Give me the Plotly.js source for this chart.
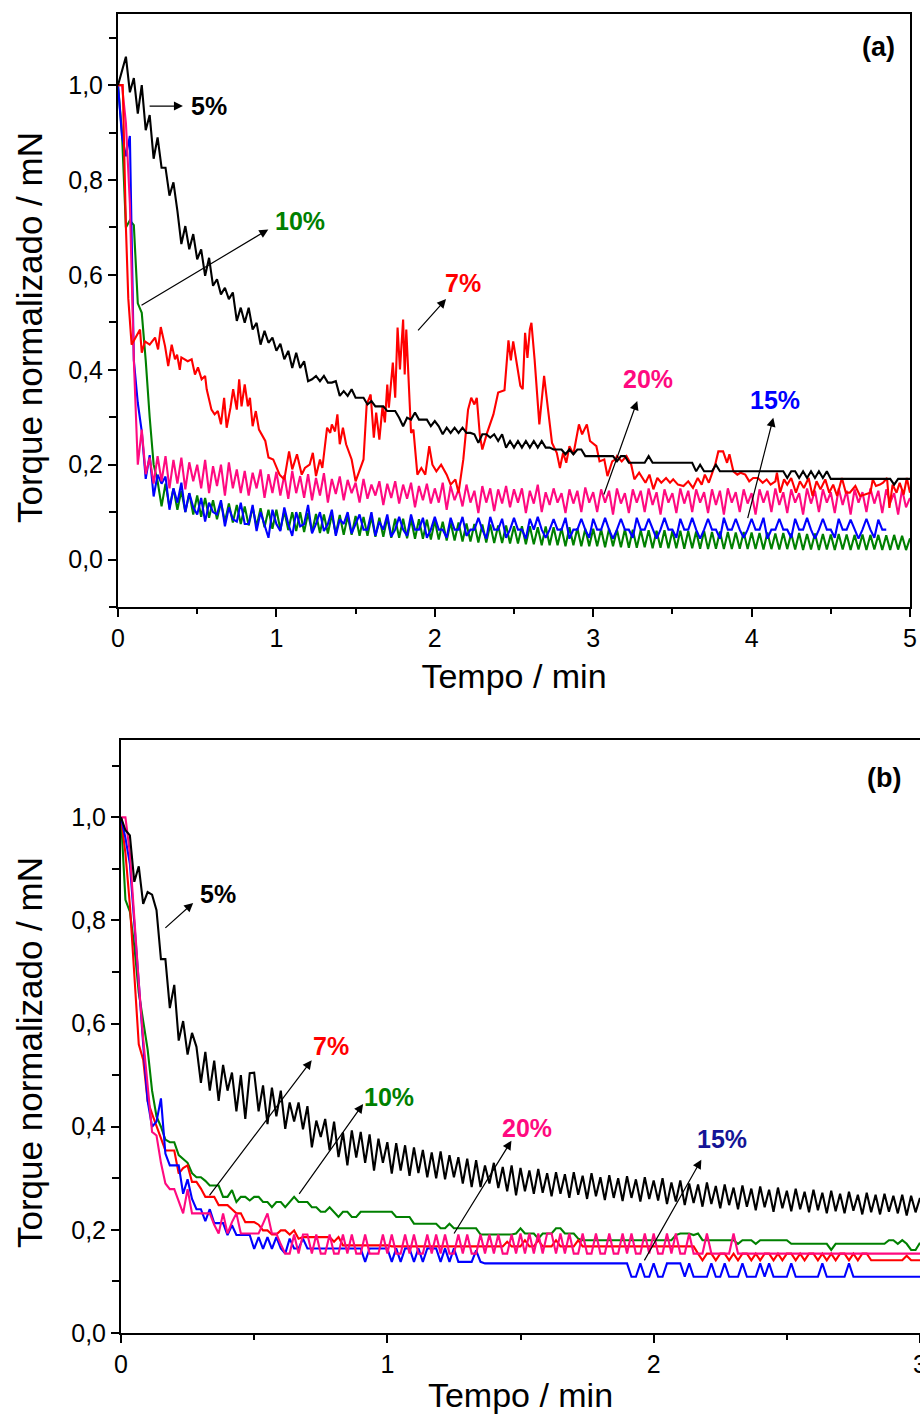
<!DOCTYPE html>
<html>
<head>
<meta charset="utf-8">
<script src="https://cdn.plot.ly/plotly-3.0.1.min.js"></script>
<style>
  html, body { margin: 0; padding: 0; background: #ffffff; }
  #chart { width: 920px; height: 1414px; }
</style>
</head>
<body>
<div id="chart"></div>
<script>
// ---------------- Panel (a): sampled every 0.025 min from t = 0 ----------------
const stepA = 0.025;

const a5 = [
  1.000, 1.030, 1.060, 0.985, 1.015, 0.940, 1.000, 0.905, 0.937, 0.845,
  0.890, 0.826, 0.826, 0.767, 0.795, 0.735, 0.665, 0.703, 0.654, 0.686,
  0.633, 0.654, 0.598, 0.636, 0.577, 0.591, 0.559, 0.573, 0.549, 0.563,
  0.503, 0.531, 0.499, 0.531, 0.485, 0.499, 0.453, 0.482, 0.457, 0.468,
  0.440, 0.455, 0.422, 0.440, 0.404, 0.436, 0.404, 0.418, 0.376, 0.380,
  0.387, 0.376, 0.387, 0.373, 0.373, 0.376, 0.345, 0.355, 0.345, 0.359,
  0.341, 0.341, 0.341, 0.327, 0.334, 0.323, 0.323, 0.323, 0.313, 0.313,
  0.313, 0.299, 0.281, 0.299, 0.295, 0.310, 0.295, 0.295, 0.295, 0.281,
  0.292, 0.281, 0.264, 0.278, 0.267, 0.278, 0.267, 0.278, 0.267, 0.267,
  0.264, 0.246, 0.264, 0.264, 0.257, 0.264, 0.250, 0.264, 0.236, 0.250,
  0.236, 0.250, 0.236, 0.250, 0.236, 0.250, 0.236, 0.250, 0.236, 0.236,
  0.232, 0.232, 0.232, 0.222, 0.232, 0.222, 0.232, 0.232, 0.218, 0.218,
  0.218, 0.218, 0.218, 0.218, 0.218, 0.218, 0.207, 0.218, 0.218, 0.204,
  0.204, 0.204, 0.204, 0.204, 0.218, 0.204, 0.204, 0.204, 0.204, 0.204,
  0.204, 0.204, 0.204, 0.204, 0.204, 0.204, 0.186, 0.200, 0.186, 0.186,
  0.186, 0.200, 0.186, 0.186, 0.186, 0.186, 0.186, 0.186, 0.186, 0.186,
  0.186, 0.186, 0.186, 0.186, 0.186, 0.186, 0.186, 0.186, 0.186, 0.172,
  0.186, 0.186, 0.172, 0.186, 0.172, 0.186, 0.172, 0.186, 0.172, 0.186,
  0.170, 0.170, 0.170, 0.170, 0.170, 0.170, 0.170, 0.170, 0.170, 0.170,
  0.170, 0.170, 0.170, 0.170, 0.170, 0.170, 0.158, 0.170, 0.170, 0.170,
  0.170
];

const a10 = [
  1.000, 0.900, 0.700, 0.715, 0.705, 0.540, 0.520, 0.420, 0.300, 0.200,
  0.165, 0.112, 0.160, 0.110, 0.150, 0.105, 0.145, 0.100, 0.140, 0.095,
  0.135, 0.090, 0.130, 0.088, 0.125, 0.085, 0.120, 0.080, 0.118, 0.078,
  0.115, 0.075, 0.112, 0.072, 0.110, 0.070, 0.108, 0.068, 0.105, 0.065,
  0.105, 0.063, 0.102, 0.062, 0.100, 0.060, 0.100, 0.058, 0.098, 0.058,
  0.096, 0.056, 0.095, 0.055, 0.095, 0.054, 0.094, 0.052, 0.092, 0.052,
  0.092, 0.050, 0.090, 0.050, 0.090, 0.048, 0.088, 0.048, 0.088, 0.046,
  0.086, 0.046, 0.086, 0.045, 0.085, 0.044, 0.085, 0.044, 0.084, 0.042,
  0.082, 0.042, 0.080, 0.040, 0.078, 0.040, 0.078, 0.038, 0.076, 0.038,
  0.075, 0.036, 0.074, 0.036, 0.074, 0.035, 0.072, 0.035, 0.072, 0.034,
  0.070, 0.034, 0.070, 0.032, 0.070, 0.032, 0.068, 0.030, 0.070, 0.030,
  0.068, 0.030, 0.066, 0.028, 0.068, 0.030, 0.066, 0.028, 0.065, 0.028,
  0.065, 0.028, 0.064, 0.026, 0.065, 0.028, 0.063, 0.026, 0.064, 0.025,
  0.063, 0.025, 0.062, 0.026, 0.062, 0.024, 0.061, 0.025, 0.062, 0.024,
  0.060, 0.024, 0.061, 0.023, 0.060, 0.024, 0.059, 0.023, 0.060, 0.022,
  0.058, 0.023, 0.059, 0.022, 0.058, 0.022, 0.057, 0.023, 0.058, 0.022,
  0.057, 0.022, 0.056, 0.021, 0.057, 0.022, 0.055, 0.021, 0.056, 0.022,
  0.055, 0.021, 0.056, 0.020, 0.054, 0.021, 0.055, 0.020, 0.054, 0.021,
  0.053, 0.020, 0.054, 0.021, 0.053, 0.020, 0.052, 0.021, 0.053, 0.020,
  0.052, 0.021, 0.052, 0.020, 0.051, 0.020, 0.052, 0.021, 0.050, 0.020,
  0.045
];

const a15 = [
  1.000, 0.893, 0.850, 0.893, 0.420, 0.330, 0.270, 0.170, 0.220, 0.133,
  0.179, 0.160, 0.175, 0.105, 0.150, 0.120, 0.162, 0.100, 0.140, 0.110,
  0.095, 0.130, 0.080, 0.120, 0.100, 0.095, 0.125, 0.070, 0.110, 0.085,
  0.080, 0.120, 0.075, 0.075, 0.115, 0.060, 0.100, 0.075, 0.046, 0.105,
  0.075, 0.060, 0.110, 0.075, 0.050, 0.100, 0.070, 0.075, 0.115, 0.055,
  0.075, 0.100, 0.060, 0.075, 0.105, 0.050, 0.085, 0.075, 0.100, 0.055,
  0.075, 0.095, 0.063, 0.063, 0.100, 0.050, 0.080, 0.063, 0.095, 0.048,
  0.063, 0.090, 0.063, 0.050, 0.095, 0.063, 0.063, 0.088, 0.046, 0.063,
  0.090, 0.063, 0.063, 0.046, 0.088, 0.063, 0.063, 0.090, 0.050, 0.063,
  0.063, 0.088, 0.063, 0.044, 0.090, 0.063, 0.063, 0.086, 0.046, 0.063,
  0.088, 0.063, 0.063, 0.044, 0.086, 0.063, 0.090, 0.063, 0.046, 0.063,
  0.085, 0.063, 0.063, 0.088, 0.044, 0.063, 0.063, 0.086, 0.063, 0.046,
  0.086, 0.063, 0.063, 0.088, 0.063, 0.044, 0.063, 0.086, 0.063, 0.063,
  0.046, 0.088, 0.063, 0.063, 0.086, 0.063, 0.044, 0.063, 0.088, 0.063,
  0.063, 0.046, 0.086, 0.063, 0.063, 0.088, 0.063, 0.044, 0.063, 0.086,
  0.063, 0.063, 0.044, 0.088, 0.063, 0.063, 0.086, 0.063, 0.046, 0.063,
  0.086, 0.063, 0.063, 0.088, 0.044, 0.063, 0.063, 0.086, 0.063, 0.063,
  0.046, 0.086, 0.063, 0.063, 0.088, 0.063, 0.044, 0.063, 0.086, 0.063,
  0.063, 0.046, 0.086, 0.063, 0.063, 0.084, 0.063, 0.044, 0.063, 0.086,
  0.063, 0.046, 0.084, 0.063, 0.063
];

const a20 = [
  1.000, 1.000, 0.920, 0.750, 0.420, 0.200, 0.274, 0.180, 0.215, 0.160,
  0.218, 0.165, 0.218, 0.150, 0.210, 0.160, 0.215, 0.148, 0.205, 0.165,
  0.200, 0.150, 0.210, 0.140, 0.197, 0.155, 0.200, 0.135, 0.205, 0.150,
  0.190, 0.140, 0.187, 0.135, 0.183, 0.150, 0.190, 0.130, 0.180, 0.140,
  0.185, 0.135, 0.178, 0.128, 0.187, 0.140, 0.176, 0.130, 0.180, 0.125,
  0.172, 0.135, 0.182, 0.120, 0.170, 0.138, 0.175, 0.125, 0.168, 0.140,
  0.162, 0.120, 0.170, 0.128, 0.158, 0.135, 0.165, 0.115, 0.160, 0.130,
  0.165, 0.118, 0.158, 0.128, 0.162, 0.110, 0.155, 0.125, 0.160, 0.118,
  0.150, 0.120, 0.162, 0.105, 0.155, 0.125, 0.148, 0.112, 0.158, 0.120,
  0.145, 0.098, 0.155, 0.120, 0.150, 0.102, 0.148, 0.118, 0.155, 0.110,
  0.148, 0.120, 0.150, 0.098, 0.145, 0.118, 0.158, 0.100, 0.142, 0.115,
  0.150, 0.120, 0.140, 0.098, 0.148, 0.118, 0.145, 0.100, 0.152, 0.120,
  0.142, 0.100, 0.148, 0.120, 0.145, 0.095, 0.150, 0.118, 0.140, 0.098,
  0.148, 0.120, 0.145, 0.100, 0.150, 0.115, 0.142, 0.095, 0.148, 0.120,
  0.140, 0.098, 0.150, 0.118, 0.145, 0.100, 0.148, 0.120, 0.142, 0.098,
  0.148, 0.115, 0.145, 0.095, 0.150, 0.120, 0.142, 0.100, 0.148, 0.118,
  0.140, 0.095, 0.148, 0.120, 0.145, 0.100, 0.150, 0.115, 0.142, 0.098,
  0.148, 0.120, 0.140, 0.095, 0.150, 0.118, 0.145, 0.100, 0.148, 0.120,
  0.142, 0.098, 0.150, 0.115, 0.145, 0.095, 0.148, 0.120, 0.142, 0.100,
  0.150, 0.118, 0.145, 0.098, 0.148, 0.120, 0.140, 0.095, 0.148, 0.110,
  0.130
];

// 7 % run: irregular trace, stored as (time, torque) pairs
const a7Time = [
  0.000, 0.030, 0.050, 0.065, 0.086, 0.139, 0.150, 0.170, 0.200, 0.234,
  0.253, 0.270, 0.297, 0.317, 0.339, 0.360, 0.373, 0.390, 0.400, 0.440,
  0.465, 0.486, 0.505, 0.528, 0.550, 0.560, 0.590, 0.610, 0.630, 0.650,
  0.670, 0.686, 0.710, 0.727, 0.750, 0.765, 0.780, 0.800, 0.820, 0.833,
  0.850, 0.870, 0.890, 0.930, 0.950, 0.980, 1.020, 1.050, 1.080, 1.100,
  1.130, 1.160, 1.180, 1.210, 1.230, 1.250, 1.275, 1.290, 1.320, 1.340,
  1.350, 1.370, 1.385, 1.400, 1.420, 1.440, 1.475, 1.500, 1.550, 1.570,
  1.595, 1.615, 1.630, 1.650, 1.670, 1.685, 1.700, 1.710, 1.735, 1.750,
  1.765, 1.780, 1.800, 1.810, 1.820, 1.850, 1.865, 1.890, 1.915, 1.940,
  1.965, 1.985, 2.010, 2.040, 2.075, 2.100, 2.130, 2.150, 2.180, 2.210,
  2.230, 2.250, 2.265, 2.285, 2.300, 2.330, 2.370, 2.400, 2.440, 2.465,
  2.480, 2.495, 2.520, 2.540, 2.555, 2.570, 2.585, 2.600, 2.610, 2.630,
  2.660, 2.690, 2.715, 2.740, 2.770, 2.790, 2.810, 2.830, 2.850, 2.875,
  2.910, 2.930, 2.960, 2.980, 3.020, 3.040, 3.070, 3.090, 3.120, 3.140,
  3.150, 3.180, 3.210, 3.240, 3.260, 3.290, 3.330, 3.355, 3.380, 3.405,
  3.430, 3.460, 3.485, 3.505, 3.535, 3.570, 3.600, 3.630, 3.660, 3.685,
  3.705, 3.730, 3.755, 3.770, 3.790, 3.820, 3.845, 3.860, 3.885, 3.910,
  3.930, 3.960, 3.985, 4.010, 4.040, 4.070, 4.095, 4.120, 4.150, 4.160,
  4.180, 4.205, 4.225, 4.250, 4.280, 4.305, 4.330, 4.360, 4.385, 4.410,
  4.435, 4.465, 4.490, 4.515, 4.540, 4.570, 4.595, 4.620, 4.655, 4.685,
  4.715, 4.750, 4.765, 4.785, 4.810, 4.830, 4.855, 4.870, 4.890, 4.915,
  4.935, 4.960, 4.980, 5.000
];
const a7 = [
  1.000, 1.000, 0.700, 0.550, 0.453, 0.485, 0.436, 0.460, 0.453, 0.468,
  0.443, 0.490, 0.450, 0.408, 0.453, 0.422, 0.432, 0.400, 0.426, 0.418,
  0.422, 0.390, 0.405, 0.380, 0.387, 0.359, 0.316, 0.306, 0.313, 0.285,
  0.341, 0.278, 0.320, 0.359, 0.316, 0.380, 0.323, 0.369, 0.323, 0.341,
  0.281, 0.313, 0.274, 0.250, 0.215, 0.211, 0.179, 0.169, 0.228, 0.190,
  0.222, 0.179, 0.193, 0.200, 0.225, 0.176, 0.211, 0.193, 0.278, 0.267,
  0.285, 0.270, 0.306, 0.243, 0.278, 0.243, 0.211, 0.165, 0.211, 0.327,
  0.348, 0.257, 0.310, 0.253, 0.323, 0.289, 0.369, 0.320, 0.415, 0.341,
  0.489, 0.401, 0.506, 0.390, 0.485, 0.267, 0.274, 0.179, 0.193, 0.179,
  0.239, 0.200, 0.186, 0.200, 0.179, 0.158, 0.169, 0.141, 0.211, 0.316,
  0.341, 0.327, 0.341, 0.260, 0.232, 0.267, 0.306, 0.352, 0.357, 0.462,
  0.420, 0.460, 0.408, 0.366, 0.359, 0.478, 0.425, 0.485, 0.499, 0.422,
  0.285, 0.387, 0.316, 0.246, 0.225, 0.193, 0.225, 0.204, 0.239, 0.222,
  0.285, 0.264, 0.285, 0.250, 0.239, 0.207, 0.211, 0.176, 0.207, 0.211,
  0.218, 0.207, 0.218, 0.200, 0.169, 0.183, 0.162, 0.179, 0.148, 0.172,
  0.162, 0.172, 0.162, 0.169, 0.158, 0.155, 0.165, 0.151, 0.172, 0.158,
  0.179, 0.162, 0.186, 0.200, 0.228, 0.228, 0.204, 0.222, 0.186, 0.179,
  0.183, 0.179, 0.165, 0.172, 0.172, 0.162, 0.169, 0.158, 0.165, 0.183,
  0.141, 0.169, 0.158, 0.172, 0.141, 0.165, 0.151, 0.172, 0.134, 0.165,
  0.148, 0.169, 0.141, 0.158, 0.134, 0.172, 0.141, 0.141, 0.155, 0.134,
  0.137, 0.141, 0.169, 0.155, 0.158, 0.162, 0.172, 0.109, 0.158, 0.141,
  0.162, 0.137, 0.172, 0.141
];

// ---------------- Panel (b): sampled every second (1/60 min) ----------------
const stepB = 1 / 60;

const b5 = [
  1.000, 0.975, 0.965, 0.875, 0.905, 0.832, 0.855, 0.850, 0.820, 0.725,
  0.725, 0.630, 0.675, 0.567, 0.605, 0.540, 0.582, 0.555, 0.485, 0.545,
  0.470, 0.528, 0.450, 0.520, 0.470, 0.505, 0.430, 0.500, 0.415, 0.504,
  0.505, 0.430, 0.480, 0.405, 0.476, 0.420, 0.470, 0.396, 0.447, 0.410,
  0.447, 0.395, 0.440, 0.360, 0.412, 0.380, 0.415, 0.354, 0.410, 0.341,
  0.389, 0.325, 0.393, 0.340, 0.390, 0.330, 0.385, 0.315, 0.377, 0.330,
  0.370, 0.309, 0.368, 0.315, 0.364, 0.305, 0.360, 0.310, 0.355, 0.302,
  0.350, 0.300, 0.352, 0.298, 0.345, 0.302, 0.341, 0.290, 0.338, 0.283,
  0.335, 0.283, 0.325, 0.290, 0.330, 0.281, 0.322, 0.275, 0.325, 0.267,
  0.320, 0.275, 0.315, 0.270, 0.318, 0.272, 0.310, 0.265, 0.312, 0.270,
  0.308, 0.262, 0.312, 0.268, 0.305, 0.260, 0.310, 0.265, 0.302, 0.258,
  0.306, 0.262, 0.300, 0.256, 0.304, 0.262, 0.298, 0.255, 0.302, 0.260,
  0.296, 0.257, 0.300, 0.250, 0.292, 0.255, 0.296, 0.248, 0.290, 0.252,
  0.288, 0.245, 0.292, 0.250, 0.285, 0.242, 0.288, 0.248, 0.282, 0.240,
  0.286, 0.245, 0.280, 0.238, 0.284, 0.244, 0.278, 0.235, 0.282, 0.242,
  0.276, 0.236, 0.280, 0.240, 0.274, 0.234, 0.278, 0.238, 0.272, 0.232,
  0.276, 0.236, 0.270, 0.232, 0.274, 0.237, 0.268, 0.230, 0.272, 0.234,
  0.268, 0.230, 0.270, 0.235, 0.266, 0.232, 0.268, 0.228, 0.266, 0.234,
  0.262
];

const b7 = [
  1.000, 0.930, 0.830, 0.700, 0.560, 0.530, 0.450, 0.425, 0.400, 0.375,
  0.354, 0.354, 0.354, 0.309, 0.320, 0.325, 0.293, 0.293, 0.280, 0.264,
  0.264, 0.264, 0.248, 0.248, 0.248, 0.240, 0.232, 0.232, 0.215, 0.215,
  0.215, 0.210, 0.199, 0.199, 0.191, 0.191, 0.199, 0.199, 0.191, 0.199,
  0.183, 0.186, 0.186, 0.186, 0.186, 0.186, 0.186, 0.186, 0.177, 0.186,
  0.170, 0.170, 0.170, 0.170, 0.170, 0.170, 0.170, 0.170, 0.170, 0.170,
  0.170, 0.168, 0.168, 0.168, 0.168, 0.168, 0.168, 0.168, 0.168, 0.168,
  0.168, 0.168, 0.168, 0.168, 0.168, 0.168, 0.168, 0.168, 0.168, 0.168,
  0.168, 0.168, 0.168, 0.168, 0.168, 0.168, 0.168, 0.177, 0.168, 0.168,
  0.168, 0.180, 0.168, 0.168, 0.180, 0.168, 0.168, 0.168, 0.180, 0.168,
  0.168, 0.168, 0.168, 0.180, 0.168, 0.168, 0.168, 0.168, 0.168, 0.168,
  0.168, 0.168, 0.168, 0.168, 0.168, 0.168, 0.168, 0.168, 0.168, 0.168,
  0.168, 0.168, 0.168, 0.168, 0.168, 0.168, 0.168, 0.168, 0.168, 0.168,
  0.154, 0.141, 0.154, 0.154, 0.141, 0.154, 0.154, 0.141, 0.154, 0.141,
  0.154, 0.154, 0.141, 0.154, 0.141, 0.154, 0.154, 0.141, 0.154, 0.141,
  0.154, 0.154, 0.141, 0.154, 0.141, 0.154, 0.154, 0.141, 0.154, 0.141,
  0.154, 0.141, 0.154, 0.154, 0.141, 0.154, 0.141, 0.154, 0.154, 0.141,
  0.141, 0.141, 0.141, 0.141, 0.141, 0.141, 0.141, 0.150, 0.141, 0.141,
  0.141
];

const b10 = [
  1.000, 0.840, 0.817, 0.750, 0.660, 0.600, 0.550, 0.470, 0.420, 0.400,
  0.375, 0.370, 0.370, 0.345, 0.338, 0.330, 0.310, 0.302, 0.302, 0.295,
  0.286, 0.286, 0.286, 0.264, 0.264, 0.277, 0.254, 0.264, 0.264, 0.257,
  0.264, 0.264, 0.254, 0.254, 0.244, 0.254, 0.254, 0.244, 0.254, 0.264,
  0.254, 0.254, 0.254, 0.244, 0.244, 0.235, 0.235, 0.244, 0.235, 0.225,
  0.235, 0.235, 0.225, 0.225, 0.235, 0.235, 0.235, 0.235, 0.235, 0.235,
  0.235, 0.235, 0.225, 0.225, 0.225, 0.225, 0.212, 0.212, 0.212, 0.212,
  0.212, 0.212, 0.203, 0.203, 0.212, 0.203, 0.203, 0.203, 0.203, 0.203,
  0.203, 0.191, 0.191, 0.191, 0.191, 0.191, 0.191, 0.191, 0.191, 0.193,
  0.203, 0.193, 0.193, 0.193, 0.183, 0.193, 0.193, 0.193, 0.203, 0.203,
  0.193, 0.193, 0.193, 0.183, 0.180, 0.180, 0.180, 0.180, 0.180, 0.180,
  0.180, 0.180, 0.180, 0.180, 0.180, 0.180, 0.180, 0.180, 0.180, 0.180,
  0.180, 0.180, 0.180, 0.180, 0.180, 0.190, 0.193, 0.193, 0.193, 0.190,
  0.193, 0.180, 0.180, 0.180, 0.180, 0.180, 0.180, 0.180, 0.180, 0.173,
  0.180, 0.180, 0.180, 0.173, 0.180, 0.180, 0.180, 0.180, 0.180, 0.180,
  0.180, 0.173, 0.173, 0.173, 0.173, 0.173, 0.173, 0.173, 0.173, 0.173,
  0.161, 0.173, 0.173, 0.173, 0.173, 0.173, 0.173, 0.173, 0.173, 0.173,
  0.173, 0.173, 0.173, 0.180, 0.180, 0.173, 0.180, 0.173, 0.161, 0.161,
  0.175
];

const b15 = [
  1.000, 0.960, 0.910, 0.800, 0.680, 0.560, 0.450, 0.400, 0.410, 0.455,
  0.348, 0.325, 0.325, 0.325, 0.270, 0.298, 0.260, 0.240, 0.240, 0.217,
  0.240, 0.213, 0.213, 0.213, 0.190, 0.209, 0.190, 0.190, 0.190, 0.190,
  0.163, 0.186, 0.163, 0.186, 0.163, 0.186, 0.164, 0.154, 0.183, 0.164,
  0.164, 0.183, 0.164, 0.164, 0.164, 0.164, 0.164, 0.164, 0.164, 0.164,
  0.164, 0.164, 0.164, 0.164, 0.164, 0.138, 0.164, 0.164, 0.164, 0.164,
  0.164, 0.138, 0.164, 0.138, 0.164, 0.164, 0.138, 0.164, 0.138, 0.164,
  0.164, 0.164, 0.138, 0.164, 0.138, 0.164, 0.138, 0.138, 0.138, 0.138,
  0.160, 0.138, 0.135, 0.135, 0.135, 0.135, 0.135, 0.135, 0.135, 0.135,
  0.135, 0.135, 0.135, 0.135, 0.135, 0.135, 0.135, 0.135, 0.135, 0.135,
  0.135, 0.135, 0.135, 0.135, 0.135, 0.135, 0.135, 0.135, 0.135, 0.135,
  0.135, 0.135, 0.135, 0.135, 0.135, 0.109, 0.109, 0.135, 0.109, 0.109,
  0.135, 0.109, 0.109, 0.135, 0.135, 0.135, 0.135, 0.109, 0.135, 0.109,
  0.109, 0.109, 0.109, 0.135, 0.109, 0.109, 0.135, 0.109, 0.109, 0.109,
  0.135, 0.109, 0.109, 0.109, 0.135, 0.109, 0.135, 0.109, 0.109, 0.109,
  0.109, 0.135, 0.109, 0.109, 0.109, 0.109, 0.109, 0.109, 0.135, 0.109,
  0.109, 0.109, 0.109, 0.109, 0.135, 0.109, 0.109, 0.109, 0.109, 0.109,
  0.109, 0.109, 0.109, 0.109, 0.109, 0.109, 0.109, 0.109, 0.109, 0.109,
  0.109
];

const b20 = [
  1.000, 1.000, 0.930, 0.800, 0.680, 0.570, 0.478, 0.390, 0.383, 0.330,
  0.290, 0.279, 0.279, 0.255, 0.232, 0.279, 0.232, 0.232, 0.232, 0.232,
  0.232, 0.210, 0.193, 0.232, 0.193, 0.215, 0.232, 0.193, 0.193, 0.193,
  0.193, 0.193, 0.212, 0.232, 0.193, 0.193, 0.172, 0.154, 0.154, 0.191,
  0.154, 0.191, 0.191, 0.154, 0.191, 0.154, 0.154, 0.191, 0.154, 0.154,
  0.191, 0.154, 0.191, 0.154, 0.154, 0.191, 0.154, 0.154, 0.154, 0.191,
  0.154, 0.191, 0.154, 0.154, 0.191, 0.154, 0.191, 0.154, 0.154, 0.191,
  0.154, 0.191, 0.154, 0.191, 0.154, 0.154, 0.191, 0.154, 0.191, 0.154,
  0.154, 0.191, 0.154, 0.191, 0.154, 0.191, 0.154, 0.154, 0.191, 0.154,
  0.193, 0.154, 0.193, 0.154, 0.193, 0.154, 0.193, 0.193, 0.154, 0.193,
  0.154, 0.193, 0.154, 0.154, 0.193, 0.154, 0.154, 0.193, 0.154, 0.154,
  0.193, 0.154, 0.154, 0.193, 0.154, 0.193, 0.154, 0.154, 0.193, 0.154,
  0.193, 0.154, 0.154, 0.193, 0.154, 0.193, 0.154, 0.154, 0.193, 0.154,
  0.154, 0.154, 0.193, 0.154, 0.154, 0.154, 0.154, 0.154, 0.193, 0.154,
  0.154, 0.154, 0.154, 0.154, 0.154, 0.154, 0.154, 0.154, 0.154, 0.154,
  0.154, 0.154, 0.154, 0.154, 0.154, 0.154, 0.154, 0.154, 0.154, 0.154,
  0.154, 0.154, 0.154, 0.154, 0.154, 0.154, 0.154, 0.154, 0.154, 0.154,
  0.154, 0.154, 0.154, 0.154, 0.154, 0.154, 0.154, 0.154, 0.154, 0.154,
  0.154
];

// Tick labels
const xTicksA = [0, 1, 2, 3, 4, 5];
const xTicksB = [0, 1, 2, 3];
const yTickVals = [0, 0.2, 0.4, 0.6, 0.8, 1.0];
const yTitle = 'Torque normalizado / mN';
const xTitle = 'Tempo / min';

// ---------------- styling ----------------
const FONT = 'Liberation Sans, Arial, Helvetica, sans-serif';
const C = {
  black: '#000000',
  red: '#ff0000',
  green: '#008000',
  blue: '#0000ff',
  pink: '#ff0a80',
  navy: '#141496'
};
const LW = 2.1;

function regular(y, step, color, xa, ya) {
  return { type: 'scatter', mode: 'lines', x0: 0, dx: step, y: y,
           xaxis: xa, yaxis: ya, line: { color: color, width: LW },
           hoverinfo: 'skip', showlegend: false };
}

const traces = [
  // panel (a)
  regular(a10, stepA, C.green, 'x', 'y'),
  regular(a15, stepA, C.blue, 'x', 'y'),
  regular(a20, stepA, C.pink, 'x', 'y'),
  { type: 'scatter', mode: 'lines', x: a7Time, y: a7, xaxis: 'x', yaxis: 'y',
    line: { color: C.red, width: LW }, hoverinfo: 'skip', showlegend: false },
  regular(a5, stepA, C.black, 'x', 'y'),
  // panel (b)
  regular(b10, stepB, C.green, 'x2', 'y2'),
  regular(b7, stepB, C.red, 'x2', 'y2'),
  regular(b15, stepB, C.blue, 'x2', 'y2'),
  regular(b20, stepB, C.pink, 'x2', 'y2'),
  regular(b5, stepB, C.black, 'x2', 'y2')
];

const W = 920, H = 1414;
function xdom(l, r) { return [l / W, r / W]; }
function ydom(top, bottom) { return [1 - bottom / H, 1 - top / H]; }

function xAxis(domain, range, ticks, anchor) {
  return {
    domain: domain, range: range, anchor: anchor,
    tickvals: ticks, ticktext: ticks.map(String),
    ticklabeloverflow: 'allow',
    showline: true, linecolor: '#000', linewidth: 2, mirror: true,
    ticks: 'outside', ticklen: 8, tickwidth: 2, tickcolor: '#000',
    minor: { dtick: 0.5, tick0: 0, ticks: 'outside', ticklen: 5, tickwidth: 2, tickcolor: '#000', showgrid: false },
    showgrid: false, zeroline: false,
    tickfont: { family: FONT, size: 25, color: '#000' },
    title: { text: xTitle, font: { family: FONT, size: 34, color: '#000' }, standoff: 13 }
  };
}
function yAxis(domain, range, anchor) {
  return {
    domain: domain, range: range, anchor: anchor,
    tickvals: yTickVals, tickformat: '.1f',
    showline: true, linecolor: '#000', linewidth: 2, mirror: true,
    ticks: 'outside', ticklen: 8, tickwidth: 2, tickcolor: '#000',
    minor: { dtick: 0.1, tick0: 0, ticks: 'outside', ticklen: 7, tickwidth: 2, tickcolor: '#000', showgrid: false },
    showgrid: false, zeroline: false,
    tickfont: { family: FONT, size: 25, color: '#000' }
  };
}

// labels and arrows (data coordinates of each panel)
function label(xa, ya, x, y, text, color, size) {
  return { xref: xa, yref: ya, x: x, y: y, text: '<b>' + text + '</b>', showarrow: false,
           font: { family: FONT, size: size || 25, color: color }, xanchor: 'center', yanchor: 'middle' };
}
function arrow(xa, ya, x0, y0, x1, y1) {
  return { xref: xa, yref: ya, axref: xa, ayref: ya, x: x1, y: y1, ax: x0, ay: y0,
           text: '', showarrow: true, arrowhead: 2, arrowsize: 1.5, arrowwidth: 1.2, arrowcolor: '#000' };
}
// vertical axis title, centred at a page position (px)
function sideTitle(cx, cy) {
  return { xref: 'paper', yref: 'paper', x: cx / W, y: 1 - cy / H, text: yTitle, textangle: -90,
           showarrow: false, xanchor: 'center', yanchor: 'middle',
           font: { family: FONT, size: 35, color: '#000' } };
}

const annotations = [
  sideTitle(29, 328),
  sideTitle(29, 1053),
  // (a)
  label('x', 'y', 0.574, 0.956, '5%', C.black),
  arrow('x', 'y', 0.19, 0.956, 0.41, 0.956),
  label('x', 'y', 1.147, 0.714, '10%', C.green),
  arrow('x', 'y', 0.139, 0.534, 0.949, 0.696),
  label('x', 'y', 2.18, 0.582, '7%', C.red),
  arrow('x', 'y', 1.886, 0.48, 2.071, 0.549),
  label('x', 'y', 3.346, 0.38, '20%', C.pink),
  arrow('x', 'y', 3.064, 0.134, 3.278, 0.334),
  label('x', 'y', 4.148, 0.336, '15%', C.blue),
  arrow('x', 'y', 3.973, 0.084, 4.137, 0.299),
  label('x', 'y', 4.80, 1.08, '(a)', C.black, 27),
  // (b)
  label('x2', 'y2', 0.365, 0.851, '5%', C.black),
  arrow('x2', 'y2', 0.161, 0.783, 0.271, 0.834),
  label('x2', 'y2', 0.788, 0.557, '7%', C.red),
  arrow('x2', 'y2', 0.328, 0.264, 0.716, 0.529),
  label('x2', 'y2', 1.008, 0.458, '10%', C.green),
  arrow('x2', 'y2', 0.665, 0.267, 0.909, 0.444),
  label('x2', 'y2', 1.523, 0.398, '20%', C.pink),
  arrow('x2', 'y2', 1.247, 0.19, 1.466, 0.373),
  label('x2', 'y2', 2.257, 0.377, '15%', C.navy),
  arrow('x2', 'y2', 1.962, 0.138, 2.179, 0.336),
  label('x2', 'y2', 2.863, 1.077, '(b)', C.black, 27)
];

const layout = {
  width: W, height: H,
  margin: { l: 0, r: 0, t: 0, b: 0 },
  paper_bgcolor: '#ffffff', plot_bgcolor: '#ffffff',
  separators: ',.',
  font: { family: FONT, color: '#000' },
  showlegend: false,
  xaxis: xAxis(xdom(118, 910), [0, 5], xTicksA, 'y'),
  yaxis: yAxis(ydom(14, 607), [-0.1, 1.15], 'x'),
  xaxis2: xAxis(xdom(121, 920), [0, 3], xTicksB, 'y2'),
  yaxis2: yAxis(ydom(740, 1333), [0, 1.15], 'x2'),
  annotations: annotations
};

Plotly.newPlot('chart', traces, layout, { staticPlot: true, displayModeBar: false });
</script>
</body>
</html>
